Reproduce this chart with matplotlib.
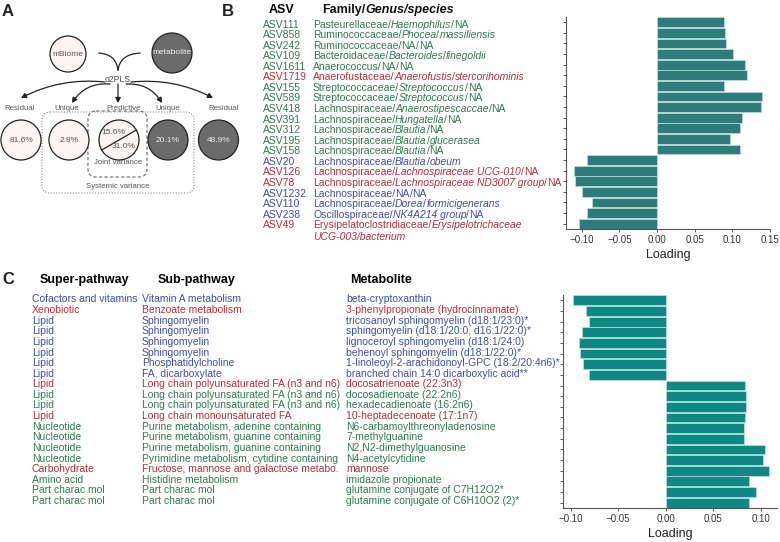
import matplotlib.pyplot as plt
from matplotlib.patches import Circle, FancyBboxPatch, FancyArrowPatch

plt.rcParams['font.family'] = ['Liberation Sans', 'DejaVu Sans']

# ---------------- data ----------------
# panel A: variance explained (%)
resid_mb, uniq_mb, pred_mb = 81.6, 2.8, 15.6
resid_met, uniq_met, pred_met = 48.9, 20.1, 31.0

# panel B: ASVs
asv_ids = ["ASV111", "ASV858", "ASV242", "ASV109", "ASV1611", "ASV1719", "ASV155",
           "ASV589", "ASV418", "ASV391", "ASV312", "ASV195", "ASV158", "ASV20",
           "ASV126", "ASV78", "ASV1232", "ASV110", "ASV238", "ASV49"]
asv_family = ["Pasteurellaceae", "Ruminococcaceae", "Ruminococcaceae", "Bacteroidaceae",
              "Anaerococcus", "Anaerofustaceae", "Streptococcaceae", "Streptococcaceae",
              "Lachnospiraceae", "Lachnospiraceae", "Lachnospiraceae", "Lachnospiraceae",
              "Lachnospiraceae", "Lachnospiraceae", "Lachnospiraceae", "Lachnospiraceae",
              "Lachnospiraceae", "Lachnospiraceae", "Oscillospiraceae",
              "Erysipelatoclostridiaceae"]
asv_genus = ["Haemophilus", "Phocea", "NA", "Bacteroides", "NA", "Anaerofustis",
             "Streptococcus", "Streptococcus", "Anaerostipescaccae", "Hungatella",
             "Blautia", "Blautia", "Blautia", "Blautia", "Lachnospiraceae UCG-010",
             "Lachnospiraceae ND3007 group", "NA", "Dorea", "NK4A214 group",
             "Erysipelotrichaceae"]
asv_species = ["NA", "massiliensis", "NA", "finegoldii", "NA", "stercorihominis", "NA",
               "NA", "NA", "NA", "NA", "glucerasea", "NA", "obeum", "NA", "NA", "NA",
               "formicigenerans", "NA", "UCG-003/bacterium"]
asv_group = ["g", "g", "g", "g", "g", "r", "g", "g", "g", "g", "g", "g", "g", "b",
             "r", "r", "b", "b", "b", "r"]
asv_loading = [0.089, 0.090, 0.092, 0.101, 0.117, 0.120, 0.089, 0.139, 0.138, 0.113,
               0.110, 0.097, 0.110, -0.093, -0.110, -0.109, -0.100, -0.086, -0.093,
               -0.104]

# panel C: metabolites
super_path = ["Cofactors and vitamins", "Xenobiotic", "Lipid", "Lipid", "Lipid", "Lipid",
              "Lipid", "Lipid", "Lipid", "Lipid", "Lipid", "Lipid", "Nucleotide",
              "Nucleotide", "Nucleotide", "Nucleotide", "Carbohydrate", "Amino acid",
              "Part charac mol", "Part charac mol"]
sub_path = ["Vitamin A metabolism", "Benzoate metabolism", "Sphingomyelin",
            "Sphingomyelin", "Sphingomyelin", "Sphingomyelin", "Phosphatidylcholine",
            "FA, dicarboxylate",
            "Long chain polyunsaturated FA (n3 and n6)",
            "Long chain polyunsaturated FA (n3 and n6)",
            "Long chain polyunsaturated FA (n3 and n6)",
            "Long chain monounsaturated FA",
            "Purine metabolism, adenine containing",
            "Purine metabolism, guanine containing",
            "Purine metabolism, guanine containing",
            "Pyrimidine metabolism, cytidine containing",
            "Fructose, mannose and galactose metabo.", "Histidine metabolism",
            "Part charac mol", "Part charac mol"]
metabolite = ["beta-cryptoxanthin", "3-phenylpropionate (hydrocinnamate)",
              "tricosanoyl sphingomyelin (d18:1/23:0)*",
              "sphingomyelin (d18:1/20:0, d16:1/22:0)*",
              "lignoceroyl sphingomyelin (d18:1/24:0)",
              "behenoyl sphingomyelin (d18:1/22:0)*",
              "1-linoleoyl-2-arachidonoyl-GPC (18:2/20:4n6)*",
              "branched chain 14:0 dicarboxylic acid**", "docosatrienoate (22:3n3)",
              "docosadienoate (22:2n6)", "hexadecadienoate (16:2n6)",
              "10-heptadecenoate (17:1n7)", "N6-carbamoylthreonyladenosine",
              "7-methylguanine", "N2,N2-dimethylguanosine", "N4-acetylcytidine",
              "mannose", "imidazole propionate", "glutamine conjugate of C7H12O2*",
              "glutamine conjugate of C6H10O2 (2)*"]
met_group = ["b", "r", "b", "b", "b", "b", "b", "b", "r", "g", "g", "r", "g", "g", "g",
             "g", "r", "g", "g", "g"]
met_loading = [-0.097, -0.084, -0.081, -0.088, -0.091, -0.090, -0.087, -0.081, 0.083,
               0.084, 0.084, 0.083, 0.082, 0.082, 0.104, 0.102, 0.109, 0.088, 0.095,
               0.088]

colors = {"b": "#3f4f9e", "r": "#b3303c", "g": "#2f7a4f"}

# ---------------- figure ----------------
W, H = 780, 542
fig = plt.figure(figsize=(7.8, 5.42), dpi=100)
bg = fig.add_axes([0, 0, 1, 1])
bg.set_xlim(0, W)
bg.set_ylim(H, 0)
bg.axis('off')
renderer = fig.canvas.get_renderer()

FS = 7.5


def seg_text(x, y, parts, color, size=FS, weight='normal'):
    # draw pieces one after another, italic where asked
    for s, it in parts:
        t = bg.text(x, y, s, color=color, fontsize=size, weight=weight,
                    style='italic' if it else 'normal', va='center', ha='left')
        x += t.get_window_extent(renderer).width
    return x


def px_axes(left, top, right, bottom):
    return fig.add_axes([left / W, 1 - bottom / H, (right - left) / W, (bottom - top) / H])


# panel labels
for lab, (x, y) in zip("ABC", [(8, 12), (228, 12), (8, 280)]):
    bg.text(x, y, lab, fontsize=12, weight='bold', va='center', ha='center', color='#222')

# ---------------- panel A ----------------
light, dark = "#fcf4f2", "#6b6b6b"
AFS = 6.0
bg.add_patch(Circle((68, 54), 18, fc=light, ec='#222', lw=0.9))
bg.add_patch(Circle((172, 53), 20, fc=dark, ec='#222', lw=0.9))
bg.text(68, 54, "mBiome", fontsize=AFS, ha='center', va='center', color='#555')
bg.text(172, 53, "metabolite", fontsize=AFS, ha='center', va='center', color='#eee')
bg.add_patch(FancyArrowPatch((96, 53), (118, 73), arrowstyle='-',
                             connectionstyle='angle3,angleA=0,angleB=90', lw=0.9, color='#222'))
bg.add_patch(FancyArrowPatch((143, 53), (118, 73), arrowstyle='-',
                             connectionstyle='angle3,angleA=0,angleB=90', lw=0.9, color='#222'))
bg.text(118, 79, "o2PLS", fontsize=6.2, ha='center', va='center', color='#444')

arrow_ends = [((105, 82), (21, 98), 0.15), ((110, 84), (72, 103), 0.3),
              ((118, 84), (118, 103), 0.0), ((126, 84), (162, 103), -0.3),
              ((131, 82), (213, 98), -0.15)]
for (s, e, rad) in arrow_ends:
    bg.add_patch(FancyArrowPatch(s, e, arrowstyle='-|>,head_length=3,head_width=1.6',
                                 connectionstyle='arc3,rad=%s' % rad, lw=0.9,
                                 color='#222', shrinkA=0, shrinkB=0))

labs = ["Residual", "Unique", "Predictive", "Unique", "Residual"]
lab_x = [20, 67, 124, 168, 224]
for s, x in zip(labs, lab_x):
    bg.text(x, 108.5, s, fontsize=5.6, ha='center', va='center', color='#555')

bg.add_patch(FancyBboxPatch((42, 112), 152, 81, boxstyle='round,pad=0,rounding_size=8',
                            fc='none', ec='#888', lw=0.8, ls=(0, (1, 1.5))))
bg.add_patch(FancyBboxPatch((88, 111), 59, 66, boxstyle='round,pad=0,rounding_size=8',
                            fc='none', ec='#666', lw=0.8, ls=(0, (3, 2))))

circ_x = [21, 69, 119, 168, 218.5]
circ_fc = [light, light, light, dark, dark]
circ_txt = ["%.1f%%" % resid_mb, "%.1f%%" % uniq_mb, None, "%.1f%%" % uniq_met,
            "%.1f%%" % resid_met]
for x, fc, s in zip(circ_x, circ_fc, circ_txt):
    bg.add_patch(Circle((x, 140), 20, fc=fc, ec='#222', lw=0.9))
    if s:
        bg.text(x, 140, s, fontsize=AFS, ha='center', va='center',
                color='#eee' if fc == dark else '#555')
bg.plot([101.7, 136.3], [150, 130], color='#222', lw=0.9)
bg.text(113, 132, "%.1f%%" % pred_mb, fontsize=AFS, ha='center', va='center', color='#555')
bg.text(124, 147, "%.1f%%" % pred_met, fontsize=AFS, ha='center', va='center', color='#555')
bg.text(118, 162, "Joint variance", fontsize=5.6, ha='center', va='center', color='#555')
bg.text(118, 186, "Systemic variance", fontsize=5.6, ha='center', va='center', color='#555')

# ---------------- panel B ----------------
bg.text(282, 10, "ASV", fontsize=9, weight='bold', ha='center', va='center')
seg_text(322, 10, [("Family/", False), ("Genus/species", True)], '#111', size=9,
         weight='bold')

for i in range(len(asv_ids)):
    y = 24.5 + 10.57 * i
    c = colors[asv_group[i]]
    bg.text(263, y, asv_ids[i], fontsize=FS, color=c, va='center', ha='left')
    gen_it = asv_genus[i] != "NA"
    if i == len(asv_ids) - 1:
        seg_text(313, y, [(asv_family[i] + "/", False), (asv_genus[i], True)], c)
        seg_text(313, y + 12, [(asv_species[i], True)], c)
    else:
        sp_it = asv_species[i] != "NA"
        seg_text(313, y, [(asv_family[i] + "/", False), (asv_genus[i], gen_it),
                          ("/", False), (asv_species[i], sp_it)], c)

axB = px_axes(566, 17, 770, 229)
axB.barh(range(len(asv_loading)), asv_loading, height=0.92, color='#2e7b7b',
         edgecolor='#bfe0de', lw=0.5)
axB.set_xlim(-0.121, 0.150)
axB.set_ylim(19.5, -0.5)
axB.set_xticks([-0.10, -0.05, 0.0, 0.05, 0.10, 0.15])
axB.set_xticklabels(["\u22120.10", "\u22120.05", "0.00", "0.05", "0.10", "0.15"])
axB.set_yticks(range(len(asv_loading)))
axB.set_yticklabels([])
axB.set_xlabel("Loading", fontsize=9, labelpad=3, color='#222')

# ---------------- panel C ----------------
bg.text(84, 280, "Super-pathway", fontsize=9, weight='bold', ha='center', va='center')
bg.text(197, 280, "Sub-pathway", fontsize=9, weight='bold', ha='center', va='center')
bg.text(381, 280, "Metabolite", fontsize=9, weight='bold', ha='center', va='center')
for i in range(len(metabolite)):
    y = 299.5 + 10.6 * i
    c = colors[met_group[i]]
    bg.text(32, y, super_path[i], fontsize=FS, color=c, va='center', ha='left')
    bg.text(142, y, sub_path[i], fontsize=FS, color=c, va='center', ha='left')
    bg.text(346, y, metabolite[i], fontsize=FS, color=c, va='center', ha='left')

axC = px_axes(563, 295, 777, 508)
axC.barh(range(len(met_loading)), met_loading, height=0.92, color='#0f8784',
         edgecolor='#bfe0de', lw=0.5)
axC.set_xlim(-0.108, 0.117)
axC.set_ylim(19.5, -0.5)
axC.set_xticks([-0.10, -0.05, 0.0, 0.05, 0.10])
axC.set_xticklabels(["\u22120.10", "\u22120.05", "0.00", "0.05", "0.10"])
axC.set_yticks(range(len(met_loading)))
axC.set_yticklabels([])
axC.set_xlabel("Loading", fontsize=9, labelpad=3, color='#222')

for ax in (axB, axC):
    ax.patch.set_alpha(0)
    for side in ('top', 'right'):
        ax.spines[side].set_visible(False)
    for side in ('left', 'bottom'):
        ax.spines[side].set_color('#555')
        ax.spines[side].set_linewidth(0.8)
    ax.tick_params(axis='both', length=2.5, width=0.7, color='#555', labelsize=7,
                   labelcolor='#333', pad=2)

fig.savefig('out.png', dpi=100)
